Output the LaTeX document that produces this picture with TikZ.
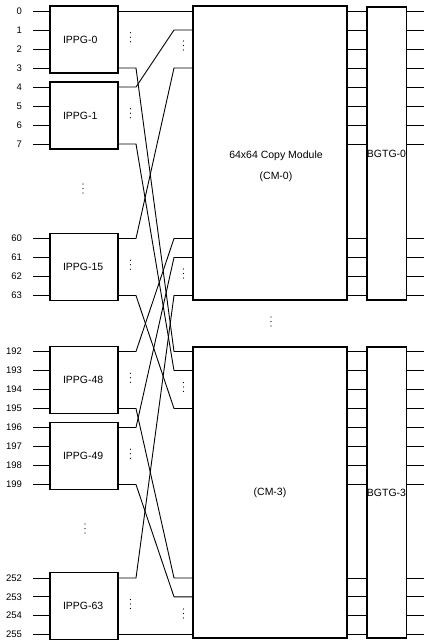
\documentclass[tikz,border=0pt]{standalone}
\usepackage{fontspec}
\setmainfont{Liberation Sans}
\usetikzlibrary{positioning}

\begin{document}
\begin{tikzpicture}[
  x=1pt, y=-1pt,
  font=\fontsize{10.5}{12}\selectfont,
  modbox/.style={draw, line width=1.1pt, inner sep=0pt},
  ippgbox/.style={modbox, minimum height=67pt, text width=42pt, inner xsep=13pt, align=left},
  cmbox/.style={modbox, minimum width=154pt},
  bgtgbox/.style={modbox, minimum width=39pt},
  rowlbl/.style={anchor=east, inner xsep=5.5pt, outer xsep=5.5pt, inner ysep=0pt,
    font=\fontsize{9.5}{11}\selectfont},
  wire/.style={line width=0.9pt},
  vdots/.style={line width=1.2pt, line cap=round, dash pattern=on 0pt off 4.5pt},
]
\useasboundingbox (0,0) rectangle (424,644);

% Row coordinates on the input side
\foreach \r/\y in {0/11, 1/30, 2/49, 3/68, 4/87, 5/106, 6/125, 7/144,
                   60/238.5, 61/257.5, 62/276.5, 63/295.5,
                   192/351.5, 193/370.5, 194/389.5, 195/408.5,
                   196/427.5, 197/446.5, 198/465.5, 199/484.5,
                   252/578, 253/596.8, 254/615.6, 255/634.4}
  \coordinate (r\r) at (33,\y);
\coordinate (bendA) at (136,0);
\coordinate (bendB) at (174,0);
\coordinate (edge) at (424,0);

% Input packet processor groups
\node[ippgbox] (ippg0) at (84,39.5) {IPPG-0};
\node[ippgbox] (ippg1) at (84,115.5) {IPPG-1};
\node[ippgbox] (ippg15) at (84,267) {IPPG-15};
\node[ippgbox] (ippg48) at (84,380) {IPPG-48};
\node[ippgbox] (ippg49) at (84,456) {IPPG-49};
\node[ippgbox] (ippg63) at (84,606.2) {IPPG-63};

% Copy modules and group translators
\node[cmbox, minimum height=294pt] (cm0) at (270,153) {};
\node[align=center] (cm0txt) at (276,166) {64x64 Copy Module\\[9pt](CM-0)};
\node[cmbox, minimum height=291pt] (cm3) at (270,492.5) {(CM-3)};
\node[bgtgbox, minimum height=293pt] (bgtg0) at (386.5,153.5) {BGTG-0};
\node[bgtgbox, minimum height=291pt] (bgtg3) at (386.5,492.5) {BGTG-3};

% Row numbers and input lines
\foreach \g/\rows in {ippg0/{0,1,2,3}, ippg1/{4,5,6,7}, ippg15/{60,61,62,63},
                      ippg48/{192,193,194,195}, ippg49/{196,197,198,199},
                      ippg63/{252,253,254,255}}
  \foreach \r in \rows {
    \node[rowlbl] (n\r) at (r\r) {\r};
    \draw[wire] (n\r.east) -- (\g.west |- n\r.east);
  }

% Links from the IPPGs to the copy modules
\draw[wire] (ippg0.east |- r0) -- (cm0.west |- r0);
\draw[wire] (ippg63.east |- r255) -- (cm3.west |- r255);
\foreach \src/\a/\cm/\b in {ippg1/4/cm0/1, ippg15/60/cm0/3, ippg48/192/cm0/60,
                            ippg49/196/cm0/61, ippg63/252/cm0/63,
                            ippg0/3/cm3/192, ippg1/7/cm3/193, ippg15/63/cm3/195,
                            ippg48/195/cm3/252, ippg49/199/cm3/253}
  \draw[wire] (\src.east |- r\a) -- (bendA |- r\a) -- (bendB |- r\b) -- (\cm.west |- r\b);

% Outputs through the BGTGs
\foreach \r in {0,1,2,3,4,5,6,7,60,61,62,63} {
  \draw[wire] (cm0.east |- r\r) -- (bgtg0.west |- r\r);
  \draw[wire] (bgtg0.east |- r\r) -- (edge |- r\r);
}
\foreach \r in {192,193,194,195,196,197,198,199,252,253,254,255} {
  \draw[wire] (cm3.east |- r\r) -- (bgtg3.west |- r\r);
  \draw[wire] (bgtg3.east |- r\r) -- (edge |- r\r);
}

% Ellipsis dots
\foreach \g in {ippg0,ippg1,ippg15,ippg48,ippg49,ippg63}
  \draw[vdots] ([xshift=12pt,yshift=6.75pt]\g.east) -- ([xshift=12pt,yshift=-6.75pt]\g.east);
\foreach \y in {41,269,382.5,609}
  \draw[vdots] (183.5,\y) -- (183.5,\y+13.5);
\draw[vdots] (83,184) -- (83,197.5);
\draw[vdots] (85,524) -- (85,537.5);
\draw[vdots] (271,317) -- (271,330.5);

\end{tikzpicture}
\end{document}
